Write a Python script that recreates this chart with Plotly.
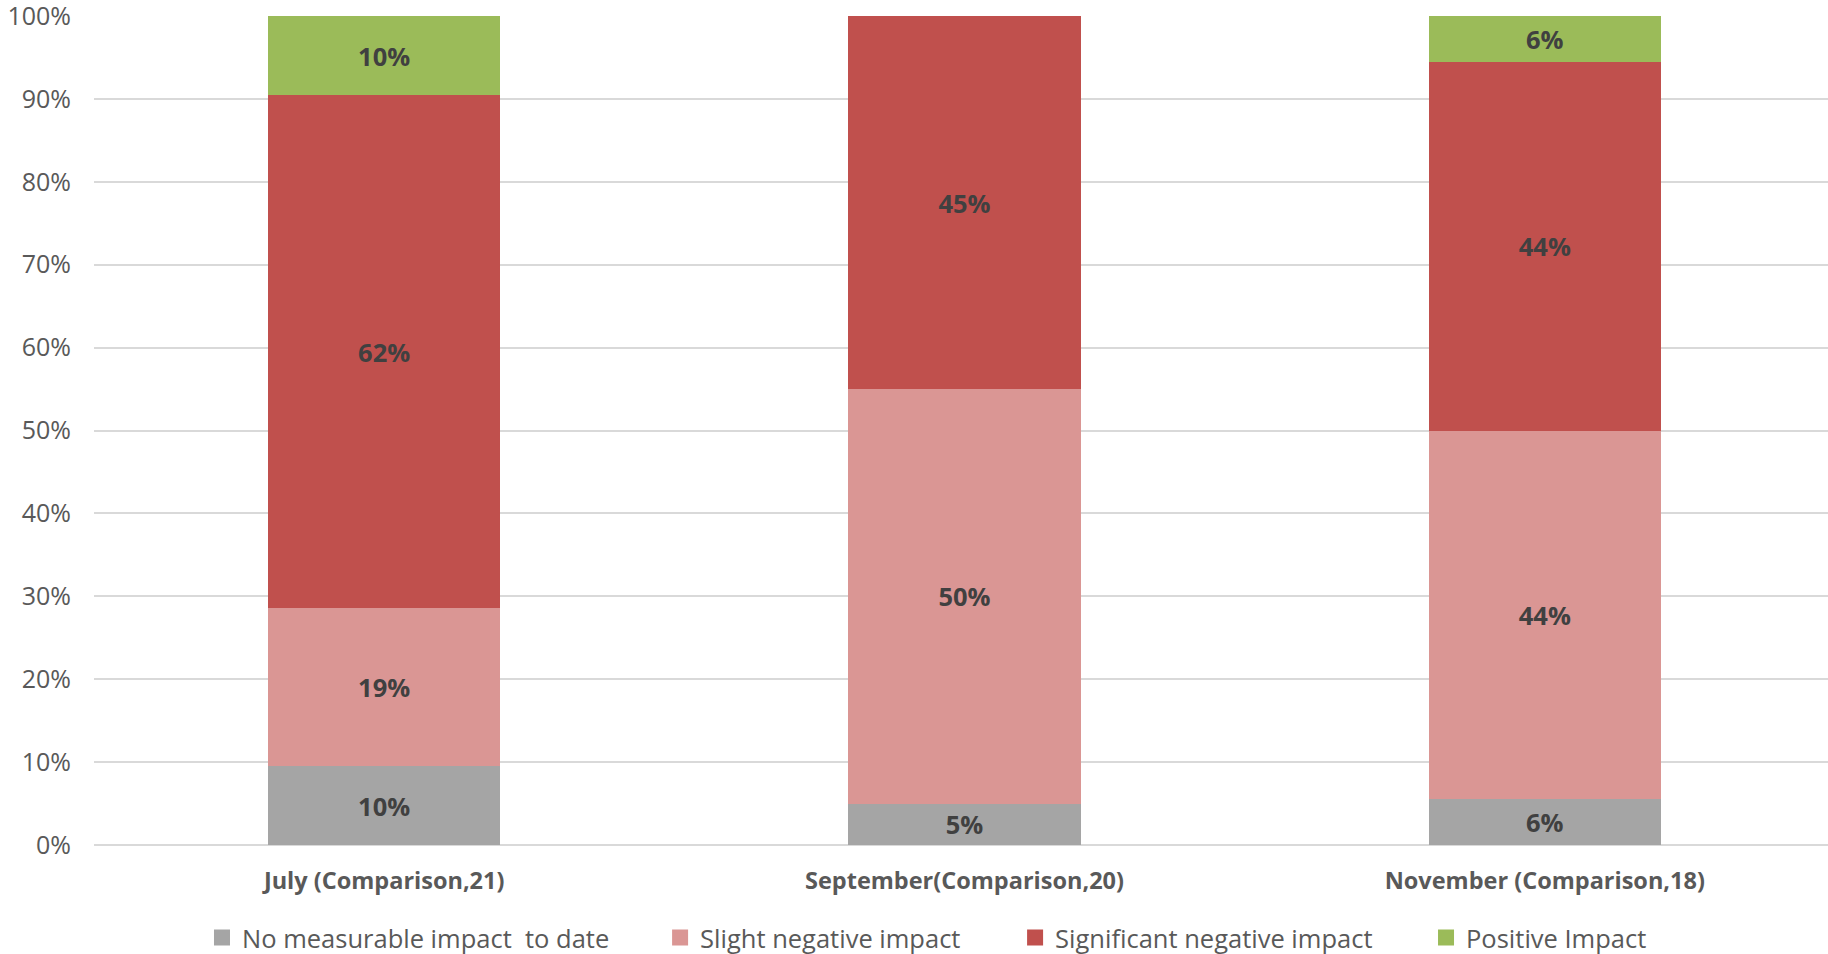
import plotly.graph_objects as go

categories = ["July (Comparison,21)", "September(Comparison,20)", "November (Comparison,18)"]
series_names = ["No measurable impact  to date", "Slight negative impact",
                "Significant negative impact", "Positive Impact"]
no_impact = [0.0952, 0.05, 0.0556]
slight_negative = [0.1905, 0.50, 0.4444]
significant_negative = [0.6190, 0.45, 0.4444]
positive = [0.0952, 0.0, 0.0556]
y_ticks = [0, 0.1, 0.2, 0.3, 0.4, 0.5, 0.6, 0.7, 0.8, 0.9, 1.0]

colors = ["#A5A5A5", "#DA9694", "#C0504D", "#9BBB59"]
series = [no_impact, slight_negative, significant_negative, positive]
legend_ids = ["legend", "legend2", "legend3", "legend4"]
legend_x = [0.1105, 0.3611, 0.5553, 0.7801]

FONT = "Open Sans"
W, H = 1828, 954

fig = go.Figure()
for name, vals, col in zip(series_names, series, colors):
    txt = [f"{round(v*100)}%" if v > 0 else "" for v in vals]
    fig.add_trace(go.Bar(
        x=categories, y=vals, name=name, showlegend=False,
        marker=dict(color=col, line=dict(width=0)),
        width=0.4,
        text=txt, textposition="inside", insidetextanchor="middle",
        constraintext="none",
        textfont=dict(family=FONT, size=25.5, color="#404040", weight="bold"),
        hoverinfo="skip",
    ))

# legend entries (square swatches)
for name, col, lg in zip(series_names, colors, legend_ids):
    fig.add_trace(go.Scatter(
        x=[None], y=[None], mode="markers", name=name, legend=lg,
        marker=dict(symbol="square", size=17, color=col),
        showlegend=True, hoverinfo="skip",
    ))

fig.update_layout(
    barmode="stack",
    width=W, height=H,
    margin=dict(l=94, r=0, t=16, b=109, autoexpand=False),
    paper_bgcolor="white", plot_bgcolor="white",
    font=dict(family=FONT, color="#595959"),
    showlegend=True,
)

for lg, lx in zip(legend_ids, legend_x):
    fig.update_layout({lg: dict(
        orientation="h", x=lx, xref="container", xanchor="left",
        y=1 - 938 / H, yref="container", yanchor="middle",
        font=dict(family=FONT, size=25.5, color="#595959"),
        bgcolor="rgba(0,0,0,0)", borderwidth=0,
    )})

fig.update_xaxes(
    range=[-0.5, 2.488],
    showgrid=False, showline=False, zeroline=False,
    ticks="outside", ticklen=15, tickcolor="rgba(0,0,0,0)",
    tickfont=dict(family=FONT, size=23.5, color="#595959", weight="bold"),
)
fig.update_yaxes(
    range=[0, 1], tickvals=y_ticks, tickformat=".0%",
    showgrid=True, gridcolor="#D9D9D9", gridwidth=2,
    zeroline=True, zerolinecolor="#D9D9D9", zerolinewidth=2,
    showline=False, ticklabeloverflow="allow",
    ticks="outside", ticklen=17, tickcolor="rgba(0,0,0,0)",
    tickfont=dict(family=FONT, size=25, color="#595959"),
)

fig.write_html("out.html", config={"displayModeBar": False},
               post_script="document.body.style.margin='0px';")
